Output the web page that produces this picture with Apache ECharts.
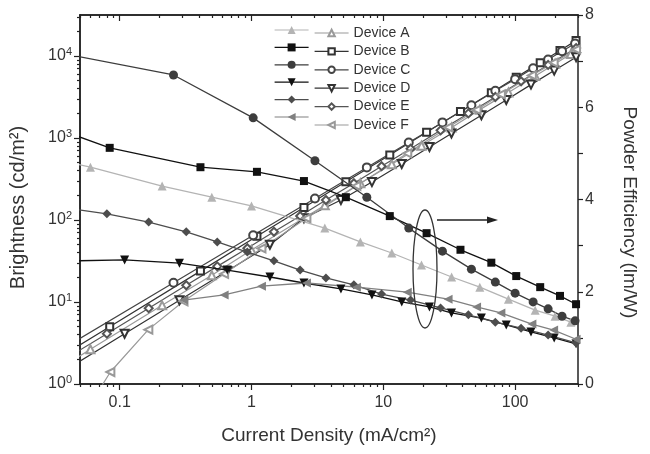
<!DOCTYPE html>
<html>
<head>
<meta charset="utf-8">
<title>Brightness and power efficiency vs current density</title>
<script src="https://cdn.jsdelivr.net/npm/echarts@6/dist/echarts.min.js"></script>
<style>
  html, body { margin: 0; padding: 0; background: #fff; }
  #chart { width: 650px; height: 454px; }
</style>
</head>
<body>
<div id="chart"></div>
<script>
// current density (mA/cm2), power efficiency (lm/W) and brightness (cd/m2) per device
const jA = [0.045, 0.06, 0.21, 0.5, 1.0, 3.6, 6.7, 11.6, 19.5, 33, 54, 89, 142, 201, 265]
const peA = [4.78, 4.70, 4.29, 4.05, 3.86, 3.38, 3.08, 2.84, 2.58, 2.32, 2.10, 1.84, 1.60, 1.47, 1.34]
const lumA = [1.98, 2.65, 9.1, 21.2, 43, 151, 281, 479, 802, 1346, 2218, 3590, 5710, 8050, 10600]

const jB = [0.045, 0.084, 0.41, 1.1, 2.5, 5.2, 11.2, 21.3, 38.5, 66, 102, 155, 219, 290]
const peB = [5.40, 5.12, 4.70, 4.60, 4.40, 4.05, 3.64, 3.27, 2.91, 2.63, 2.34, 2.10, 1.91, 1.73]
const lumB = [2.70, 5.0, 23.8, 63.4, 142, 292, 621, 1172, 2100, 3570, 5500, 8300, 11700, 15400]

const jC = [0.045, 0.256, 1.03, 3.03, 7.5, 15.6, 28.1, 46.6, 70.8, 100, 137, 178, 227, 285]
const peC = [7.12, 6.70, 5.77, 4.84, 4.05, 3.38, 2.88, 2.49, 2.21, 1.97, 1.78, 1.63, 1.47, 1.37]
const lumC = [3.25, 17.2, 65, 183, 438, 880, 1550, 2510, 3760, 5220, 7080, 9080, 11460, 14200]

const jD = [0.045, 0.109, 0.284, 0.655, 1.38, 2.5, 4.77, 8.2, 13.8, 22.4, 32.9, 55.5, 85.7, 132, 198, 290]
const peD = [2.67, 2.69, 2.62, 2.47, 2.32, 2.19, 2.06, 1.93, 1.78, 1.67, 1.54, 1.43, 1.28, 1.13, 1.00, 0.87]
const lumD = [1.71, 4.10, 10.5, 23.9, 50.0, 105, 175, 290, 481, 778, 1135, 1897, 2911, 4477, 6637, 9680]

const jE = [0.045, 0.08, 0.166, 0.32, 0.55, 0.93, 1.48, 2.34, 3.67, 5.98, 9.7, 16.1, 27.2, 44.2, 70.8, 111, 178, 290]
const peE = [3.79, 3.69, 3.51, 3.30, 3.08, 2.86, 2.67, 2.47, 2.30, 2.15, 1.95, 1.82, 1.65, 1.50, 1.34, 1.21, 1.06, 0.89]
const lumE = [2.34, 4.11, 8.4, 16.0, 27.2, 45.3, 71.9, 112, 175, 281, 453, 741, 1240, 1995, 3160, 4920, 7780, 12500]

const jF = [0.305, 0.62, 1.19, 2.61, 6.25, 15.2, 31, 51, 78, 134, 196, 290]
const peF = [1.82, 1.93, 2.12, 2.19, 2.10, 1.99, 1.84, 1.67, 1.54, 1.30, 1.17, 0.97]
const jFLum = [0.065, 0.085, 0.165, 0.305, 0.62, 1.19, 2.61, 6.25, 15.2, 31, 51, 78, 134, 196, 290]
const lumF = [0.7, 1.4, 4.6, 10.2, 22, 45, 105, 260, 650, 1350, 2200, 3400, 5800, 8300, 12000]

// tick positions
const xMajor = [0.1, 1, 10, 100]
const xMinor = [0.05, 0.06, 0.07, 0.08, 0.09, 0.2, 0.3, 0.4, 0.5, 0.6, 0.7, 0.8, 0.9,
  2, 3, 4, 5, 6, 7, 8, 9, 20, 30, 40, 50, 60, 70, 80, 90, 200, 300]
const yMajor = [1, 10, 100, 1000, 10000]
const yMinor = [2, 3, 4, 5, 6, 7, 8, 9, 20, 30, 40, 50, 60, 70, 80, 90,
  200, 300, 400, 500, 600, 700, 800, 900, 2000, 3000, 4000, 5000, 6000, 7000, 8000, 9000, 20000, 30000]

const FONT = 'Liberation Sans, Arial, sans-serif'
const INK = '#222'

const devices = [
  { key: 'A', j: jA, pe: peA, lum: lumA, jl: jA, sym: 'triangle', rot: 0, fill: '#b4b4b4', open: '#9a9a9a' },
  { key: 'B', j: jB, pe: peB, lum: lumB, jl: jB, sym: 'rect', rot: 0, fill: '#111', open: '#333' },
  { key: 'C', j: jC, pe: peC, lum: lumC, jl: jC, sym: 'circle', rot: 0, fill: '#3d3d3d', open: '#444' },
  { key: 'D', j: jD, pe: peD, lum: lumD, jl: jD, sym: 'triangle', rot: 180, fill: '#111', open: '#333' },
  { key: 'E', j: jE, pe: peE, lum: lumE, jl: jE, sym: 'diamond', rot: 0, fill: '#4d4d4d', open: '#555' },
  { key: 'F', j: jF, pe: peF, lum: lumF, jl: jFLum, sym: 'triangle', rot: 90, fill: '#808080', open: '#999' }
]

const chart = echarts.init(document.getElementById('chart'))

const openSeries = devices.map(d => ({
  name: 'Device ' + d.key,
  type: 'line',
  xAxisIndex: 0,
  yAxisIndex: 0,
  data: d.jl.map((j, i) => [j, d.lum[i]]),
  symbol: 'empty' + d.sym.charAt(0).toUpperCase() + d.sym.slice(1),
  symbolRotate: d.rot,
  symbolSize: d.sym === 'rect' ? 7 : 8,
  lineStyle: { color: d.open, width: 1.2 },
  itemStyle: { color: d.open, borderWidth: 1.1 },
  emphasis: { disabled: true },
  z: 2
}))

const fillSeries = devices.map(d => ({
  name: 'PE ' + d.key,
  type: 'line',
  xAxisIndex: 0,
  yAxisIndex: 2,
  data: d.j.map((j, i) => [j, d.pe[i]]),
  symbol: d.sym,
  symbolRotate: d.rot,
  symbolSize: d.sym === 'rect' ? 8 : 9,
  lineStyle: { color: d.fill, width: 1.3 },
  itemStyle: { color: d.fill },
  emphasis: { disabled: true },
  z: 3
}))

const logAxis = (pos, ticks, len, inside, extra) => Object.assign({
  type: 'log',
  position: pos,
  axisLine: { show: true, lineStyle: { color: INK, width: 1.5 } },
  axisTick: { show: true, customValues: ticks, length: len, inside: inside, lineStyle: { color: INK, width: 1.2 } },
  axisLabel: { show: false },
  splitLine: { show: false }
}, extra)

const xRange = { min: 0.05, max: 300 }
const yRange = { min: 1, max: 31623 }

const legendBase = {
  orient: 'vertical',
  padding: 0,
  itemWidth: 34,
  selectedMode: false,
  lineStyle: { width: 1.2 }
}

chart.setOption({
  animation: false,
  backgroundColor: '#fff',
  textStyle: { fontFamily: FONT },
  grid: { left: 80, right: 72, top: 15, bottom: 70 },
  legend: [
    Object.assign({}, legendBase, {
      data: fillSeries.map(s => s.name),
      left: 274,
      top: 25,
      itemHeight: 10,
      itemGap: 8.4,
      formatter: () => ''
    }),
    Object.assign({}, legendBase, {
      data: openSeries.map(s => s.name),
      left: 314,
      top: 26,
      itemHeight: 8,
      itemGap: 4.4,
      itemStyle: { borderWidth: 1 },
      textStyle: { fontSize: 14, color: '#333', fontFamily: FONT }
    })
  ],
  xAxis: [
    logAxis('bottom', xMajor, 6, false, Object.assign({
      name: 'Current Density (mA/cm²)',
      nameLocation: 'middle',
      nameGap: 42,
      nameTextStyle: { fontSize: 19, color: '#333', fontFamily: FONT },
      axisLabel: { show: true, customValues: xMajor, fontSize: 16, color: '#333', margin: 11 }
    }, xRange)),
    logAxis('bottom', xMinor, 3, false, xRange),
    logAxis('top', xMajor, 6, true, xRange),
    logAxis('top', xMinor, 3, true, xRange)
  ],
  yAxis: [
    logAxis('left', yMajor, 6, false, Object.assign({
      name: 'Brightness (cd/m²)',
      nameLocation: 'middle',
      nameGap: 52,
      nameTextStyle: { fontSize: 20, color: '#333', fontFamily: FONT, padding: [0, 16, 0, 0] },
      axisLabel: {
        show: true,
        customValues: yMajor,
        margin: 8,
        formatter: v => '{b|10}{s|' + Math.round(Math.log10(v)) + '}',
        rich: {
          b: { fontSize: 16, color: '#333', fontFamily: FONT },
          s: { fontSize: 11, color: '#333', fontFamily: FONT, padding: [0, 0, 9, 0] }
        }
      }
    }, yRange)),
    logAxis('left', yMinor, 3, false, yRange),
    {
      type: 'value',
      position: 'right',
      min: 0, max: 8, interval: 1,
      name: 'Powder Efficiency (lm/W)',
      nameLocation: 'middle',
      nameRotate: -90,
      nameGap: 42,
      nameTextStyle: { fontSize: 19, color: '#333', fontFamily: FONT, padding: [0, 0, 0, 26] },
      axisLine: { show: true, lineStyle: { color: INK, width: 1.5 } },
      axisTick: { show: true, length: 5, lineStyle: { color: INK, width: 1.2 } },
      axisLabel: { fontSize: 16, color: '#333', margin: 7, formatter: v => (v % 2 === 0 ? String(v) : '') },
      splitLine: { show: false }
    }
  ],
  graphic: [
    { type: 'ellipse', shape: { cx: 425, cy: 269, rx: 12, ry: 59 }, style: { fill: 'none', stroke: '#333', lineWidth: 1.3 }, z: 100 },
    { type: 'line', shape: { x1: 437, y1: 220, x2: 490, y2: 220 }, style: { stroke: INK, lineWidth: 1.3 }, z: 100 },
    { type: 'polygon', shape: { points: [[498, 220], [487, 216.5], [487, 223.5]] }, style: { fill: INK }, z: 100 }
  ],
  series: openSeries.concat(fillSeries)
})
</script>
</body>
</html>
